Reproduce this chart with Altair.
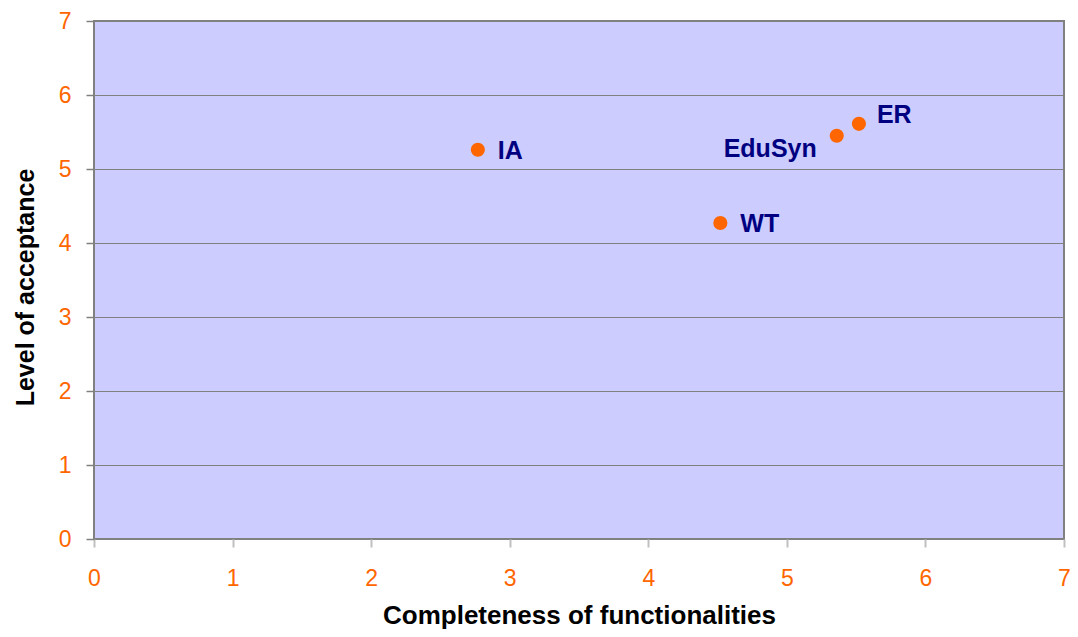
import altair as alt
import pandas as pd

names = ["IA", "WT", "EduSyn", "ER"]
completeness = [2.77, 4.52, 5.36, 5.52]
acceptance = [5.26, 4.27, 5.45, 5.61]
tick_values = [0, 1, 2, 3, 4, 5, 6, 7]

df = pd.DataFrame({"name": names, "x": completeness, "y": acceptance})

FONT = "Liberation Sans"
W, H = 970, 518

xenc = alt.X("x:Q", scale=alt.Scale(domain=[0, 7], nice=False, zero=True),
             axis=alt.Axis(title="Completeness of functionalities", values=tick_values,
                           format="d",
                           grid=False, domain=False, tickColor="#C0C0C0", tickSize=8,
                           tickWidth=2,
                           labelColor="#FF6600", labelFontSize=23, labelFont=FONT,
                           labelBaseline="alphabetic", labelPadding=38,
                           labelFlush=False, labelOverlap=False,
                           titleFont=FONT, titleFontSize=26, titleFontWeight="bold",
                           titleColor="#000000", titleBaseline="alphabetic",
                           titleY=84, titleX=W / 2))
yenc = alt.Y("y:Q", scale=alt.Scale(domain=[0, 7], nice=False, zero=True),
             axis=alt.Axis(title="Level of acceptance", values=tick_values,
                           format="d",
                           grid=True, gridColor="#808080", gridWidth=1, domain=False,
                           tickColor="#808080", tickSize=8, tickWidth=1.5,
                           labelColor="#FF6600", labelFontSize=23, labelFont=FONT,
                           labelPadding=15, labelFlush=False, labelOverlap=False,
                           titleFont=FONT, titleFontSize=25, titleFontWeight="bold",
                           titleColor="#000000", titleBaseline="alphabetic",
                           titleAngle=-90, titleX=-61, titleY=H / 2 + 7))

base = alt.Chart(df)

points = base.mark_circle(size=200, color="#FF6600", opacity=1).encode(x=xenc, y=yenc)

label_style = dict(font=FONT, fontSize=25, fontWeight="bold", color="#000080")

lab_right = base.transform_filter(
    alt.FieldOneOfPredicate(field="name", oneOf=["IA", "WT"])
).mark_text(align="left", baseline="middle", dx=20, dy=1, **label_style).encode(
    x="x:Q", y="y:Q", text="name:N")

lab_er = base.transform_filter(
    alt.FieldEqualPredicate(field="name", equal="ER")
).mark_text(align="left", baseline="middle", dx=18, dy=-9, **label_style).encode(
    x="x:Q", y="y:Q", text="name:N")

lab_edu = base.transform_filter(
    alt.FieldEqualPredicate(field="name", equal="EduSyn")
).mark_text(align="right", baseline="middle", dx=-20, dy=13, **label_style).encode(
    x="x:Q", y="y:Q", text="name:N")

chart = alt.layer(points, lab_right, lab_er, lab_edu).properties(
    width=W, height=H,
    autosize=alt.AutoSizeParams(type="none"),
    padding={"left": 86, "top": 13, "right": 6, "bottom": 90},
    background="#FFFFFF",
).configure_view(
    fill="#CCCCFF", stroke="#808080", strokeWidth=2
)

chart.save("out.html", embed_options={"renderer": "svg", "actions": False})
